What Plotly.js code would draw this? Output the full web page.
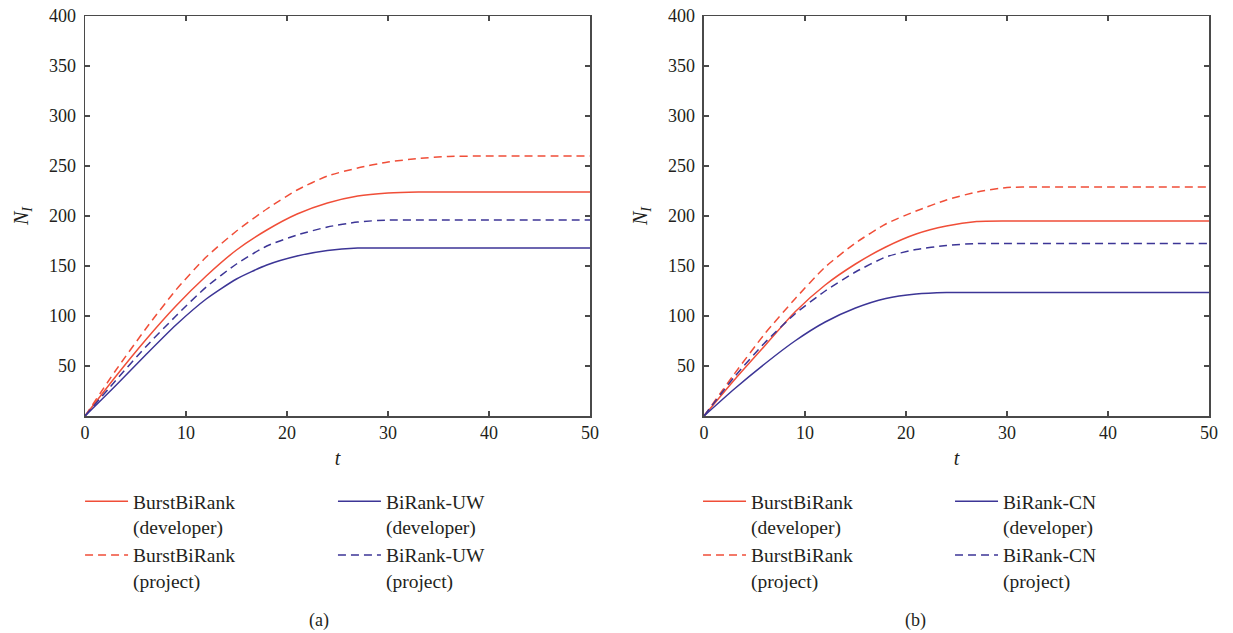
<!DOCTYPE html>
<html>
<head>
<meta charset="utf-8">
<script src="https://cdn.plot.ly/plotly-3.0.1.min.js"></script>
<style>html,body{margin:0;padding:0;background:#fff;}#chart{width:1233px;height:633px;}</style>
</head>
<body>
<div id="chart"></div>
<script>
// time steps
const t = [0, 3, 6, 9, 12, 15, 18, 21, 24, 27, 30, 33, 36, 40, 50];

// Panel (a)
const aBurstDev  = [0, 39, 76, 110, 140, 166, 186, 202, 213, 220, 223, 224, 224, 224, 224];
const aBurstProj = [0, 45, 87, 126, 159, 185, 207, 226, 240, 248, 254, 257.5, 259.5, 260, 260];
const aUWDev     = [0, 30, 61, 91, 117, 137, 151, 160, 165.5, 168, 168, 168, 168, 168, 168];
const aUWProj    = [0, 35, 69, 100, 129, 152, 170, 181, 189, 194, 196, 196, 196, 196, 196];

// Panel (b)
const bBurstDev  = [0, 36, 70, 104, 131, 152, 169, 182, 190, 194.5, 195, 195, 195, 195, 195];
const bBurstProj = [0, 42, 82, 117, 149, 173, 192, 205, 216, 224, 228.5, 229, 229, 229, 229];
const bCNDev     = [0, 27, 52, 75, 94, 108, 117.5, 122, 123.5, 123.5, 123.5, 123.5, 123.5, 123.5, 123.5];
const bCNProj    = [0, 39, 73, 102, 125, 144, 159, 166.5, 170.5, 172.5, 172.5, 172.5, 172.5, 172.5, 172.5];

const xTicks = [0, 10, 20, 30, 40, 50];
const yTicks = [50, 100, 150, 200, 250, 300, 350, 400];

const names = {
  burstDev: 'BurstBiRank<br>(developer)',
  burstProj: 'BurstBiRank<br>(project)',
  uwDev: 'BiRank-UW<br>(developer)',
  uwProj: 'BiRank-UW<br>(project)',
  cnDev: 'BiRank-CN<br>(developer)',
  cnProj: 'BiRank-CN<br>(project)'
};

const RED = '#f04e38';
const BLUE = '#3c3596';
const DASH = '8px,5px';
const FONT = 'Liberation Serif, DejaVu Serif, serif';
const TXT = '#231f20';
const AX = '#4a4a4a';

function tr(y, name, color, dashed, xa, ya, leg, grp) {
  return {
    x: t, y: y, name: name, type: 'scatter', mode: 'lines',
    xaxis: xa, yaxis: ya, legend: leg, legendgroup: grp,
    line: {color: color, width: 1.5, dash: dashed ? DASH : 'solid', shape: 'spline', smoothing: 0.6},
    hoverinfo: 'skip'
  };
}

const data = [
  tr(aBurstDev, names.burstDev, RED, false, 'x', 'y', 'legend', 'a1'),
  tr(aBurstProj, names.burstProj, RED, true, 'x', 'y', 'legend', 'a2'),
  tr(aUWDev, names.uwDev, BLUE, false, 'x', 'y', 'legend2', 'a3'),
  tr(aUWProj, names.uwProj, BLUE, true, 'x', 'y', 'legend2', 'a4'),
  tr(bBurstDev, names.burstDev, RED, false, 'x2', 'y2', 'legend3', 'b1'),
  tr(bBurstProj, names.burstProj, RED, true, 'x2', 'y2', 'legend3', 'b2'),
  tr(bCNDev, names.cnDev, BLUE, false, 'x2', 'y2', 'legend4', 'b3'),
  tr(bCNProj, names.cnProj, BLUE, true, 'x2', 'y2', 'legend4', 'b4')
];

function xax(domain, anchor) {
  return {
    domain: domain, anchor: anchor, range: [0, 50], tickvals: xTicks,
    ticks: 'inside', ticklen: 5, tickwidth: 1.2, tickcolor: AX,
    showline: true, linecolor: AX, linewidth: 1.5, mirror: 'ticks',
    showgrid: false, zeroline: false,
    tickfont: {family: FONT, size: 18, color: TXT},
    title: {text: '<i>t</i>', font: {family: FONT, size: 20, color: TXT}, standoff: 9}
  };
}
function yax(anchor) {
  return {
    domain: [0, 1], anchor: anchor, range: [0, 400], tickvals: yTicks,
    ticks: 'inside', ticklen: 5, tickwidth: 1.2, tickcolor: AX,
    showline: true, linecolor: AX, linewidth: 1.5, mirror: 'ticks',
    showgrid: false, zeroline: false, ticklabelstandoff: 4,
    tickfont: {family: FONT, size: 18, color: TXT},
    title: {text: '<i>N</i><sub><i>I</i></sub>', font: {family: FONT, size: 20, color: TXT}, standoff: 15}
  };
}
function leg(x) {
  return {
    x: x, y: -0.165, xanchor: 'left', yanchor: 'top', orientation: 'v',
    valign: 'top', tracegroupgap: 0, itemwidth: 43, bgcolor: 'rgba(0,0,0,0)',
    font: {family: FONT, size: 19.5, color: TXT}
  };
}

const layout = {
  width: 1233, height: 633,
  margin: {l: 85, r: 24, t: 16, b: 217},
  paper_bgcolor: '#ffffff', plot_bgcolor: '#ffffff',
  showlegend: true,
  xaxis: xax([0, 0.4493], 'y'),
  yaxis: yax('x'),
  xaxis2: xax([0.5507, 1], 'y2'),
  yaxis2: yax('x2'),
  legend: leg(-0.0044),
  legend2: leg(0.2206),
  legend3: leg(0.5454),
  legend4: leg(0.7696),
  annotations: [
    {text: '(a)', xref: 'paper', yref: 'paper', x: 0.1975, y: -0.5425, showarrow: false,
     font: {family: FONT, size: 18, color: TXT}},
    {text: '(b)', xref: 'paper', yref: 'paper', x: 0.75, y: -0.5425, showarrow: false,
     font: {family: FONT, size: 18, color: TXT}}
  ]
};

Plotly.newPlot('chart', data, layout, {displayModeBar: false, staticPlot: true});
</script>
</body>
</html>
